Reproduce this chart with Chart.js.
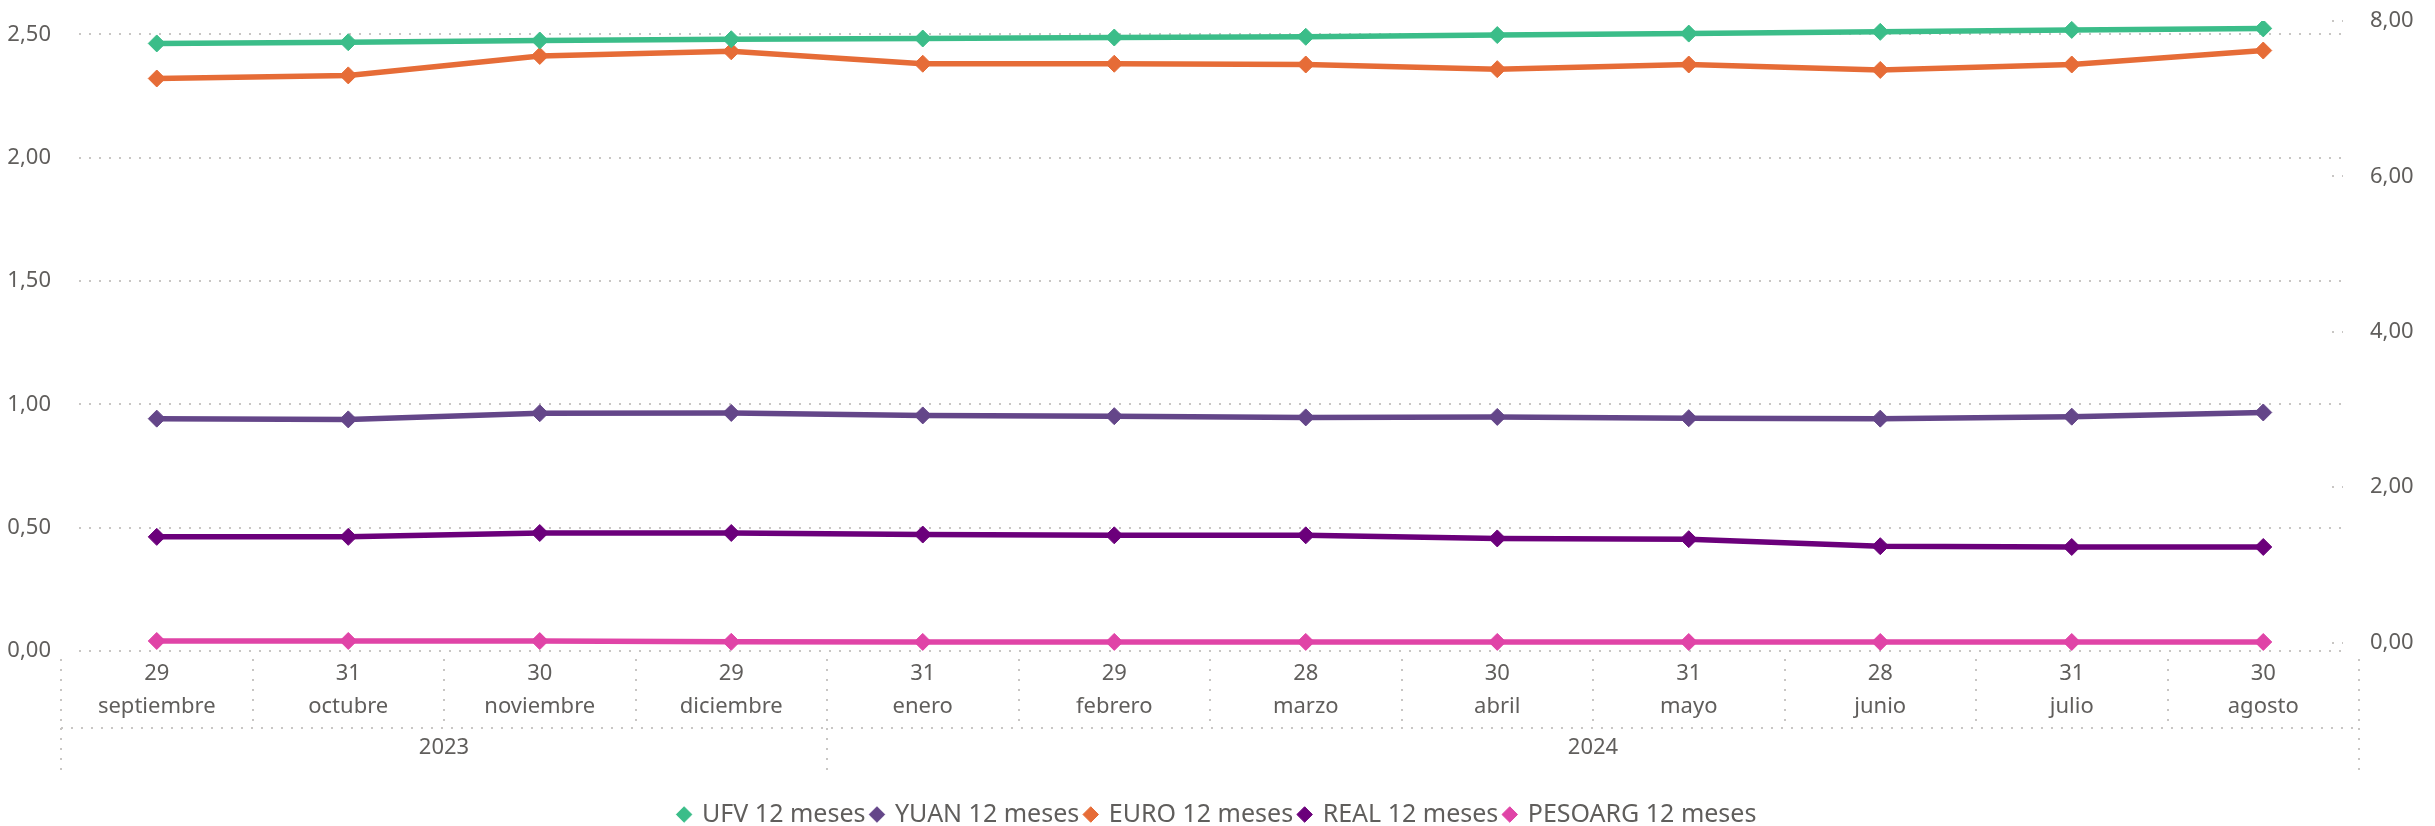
<!DOCTYPE html>
<html>
<head>
<meta charset="utf-8">
<script src="https://cdn.jsdelivr.net/npm/chart.js@4"></script>
<style>
  html, body { margin: 0; padding: 0; background: #fff; }
  #wrap { width: 2435px; height: 826px; }
</style>
</head>
<body>
<div id="wrap"><canvas id="tipos"></canvas></div>
<script>
const dias = ["29", "31", "30", "29", "31", "29", "28", "30", "31", "28", "31", "30"];
const meses = ["septiembre", "octubre", "noviembre", "diciembre", "enero", "febrero",
  "marzo", "abril", "mayo", "junio", "julio", "agosto"];
const anios = ["2023", "2024"];
const anioDesde = [0, 4];
const anioHasta = [3, 11];

const ufv = [2.463, 2.468, 2.475, 2.480, 2.483, 2.487, 2.490, 2.497, 2.503, 2.510, 2.518, 2.524];
const yuan = [0.942, 0.939, 0.964, 0.965, 0.955, 0.952, 0.947, 0.949, 0.944, 0.942, 0.950, 0.967];
const euro = [7.26, 7.30, 7.55, 7.61, 7.45, 7.45, 7.44, 7.38, 7.44, 7.37, 7.44, 7.62];
const real = [1.36, 1.36, 1.41, 1.41, 1.39, 1.38, 1.38, 1.34, 1.33, 1.24, 1.23, 1.23];
const pesoarg = [0.020, 0.020, 0.019, 0.009, 0.008, 0.008, 0.008, 0.008, 0.007, 0.007, 0.007, 0.007];

const ticksIzq = [0, 0.5, 1, 1.5, 2, 2.5];
const ticksDer = [0, 2, 4, 6, 8];

const FONT = "'Segoe UI', 'Noto Sans', sans-serif";
const GRIS = "#605e5c";
const PUNTOS = "#c8c6c4";

const coma = v => Number(v).toFixed(2).replace(".", ",");

function serie(label, data, color, eje) {
  return {
    label: label,
    data: data,
    yAxisID: eje,
    borderColor: color,
    backgroundColor: color,
    pointBackgroundColor: color,
    pointBorderColor: color,
    borderWidth: 5.5,
    pointStyle: "rectRot",
    pointRadius: 8.5,
    pointBorderWidth: 1,
    tension: 0
  };
}

function punteado(ctx) {
  ctx.strokeStyle = PUNTOS;
  ctx.lineWidth = 2;
  ctx.setLineDash([2, 8]);
}

function linea(ctx, x0, y0, x1, y1) {
  ctx.beginPath();
  ctx.moveTo(x0, y0);
  ctx.lineTo(x1, y1);
  ctx.stroke();
}

// rejilla horizontal algo recortada, como en Power BI
const rejilla = {
  id: "rejilla",
  beforeDatasetsDraw(chart) {
    const ctx = chart.ctx;
    const a = chart.chartArea;
    const y = chart.scales.y;
    const y1 = chart.scales.y1;
    ctx.save();
    punteado(ctx);
    ticksIzq.forEach(t => {
      const py = Math.round(y.getPixelForValue(t));
      linea(ctx, a.left + 18, py, a.right - 18, py);
    });
    ticksDer.forEach(t => {
      const py = Math.round(y1.getPixelForValue(t));
      linea(ctx, a.right - 27, py, a.right - 16, py);
    });
    ctx.restore();
  }
};

// separadores punteados del eje de categorias
const cajasEje = {
  id: "cajasEje",
  afterDraw(chart) {
    const ctx = chart.ctx;
    const x = chart.scales.x;
    const x2 = chart.scales.x2;
    const filaY = x.bottom;
    ctx.save();
    punteado(ctx);
    for (let k = 0; k <= dias.length; k++) {
      const px = Math.round(x.getPixelForValue(k - 0.5));
      linea(ctx, px, x.top + 8, px, filaY);
    }
    linea(ctx, x.getPixelForValue(-0.5), filaY, x.getPixelForValue(dias.length - 0.5), filaY);
    const cortes = [anioDesde[0] - 0.5].concat(anioHasta.map(h => h + 0.5));
    cortes.forEach(c => {
      const px = Math.round(x.getPixelForValue(c));
      linea(ctx, px, filaY, px, x2.top + 42);
    });
    ctx.restore();
  }
};

new Chart(document.getElementById("tipos"), {
  type: "line",
  data: {
    labels: dias.map((d, i) => [d, meses[i]]),
    datasets: [
      serie("UFV 12 meses", ufv, "#3bbd89", "y"),
      serie("YUAN 12 meses", yuan, "#644689", "y"),
      serie("EURO 12 meses", euro, "#e66c37", "y1"),
      serie("REAL 12 meses", real, "#6b007b", "y1"),
      serie("PESOARG 12 meses", pesoarg, "#e044a7", "y1")
    ]
  },
  options: {
    responsive: true,
    maintainAspectRatio: false,
    animation: false,
    layout: { padding: { top: 21, left: 0, right: 0, bottom: -11 } },
    plugins: {
      legend: {
        position: "bottom",
        labels: {
          usePointStyle: true,
          pointStyle: "rectRot",
          boxWidth: 11,
          boxHeight: 11,
          padding: 6,
          color: GRIS,
          font: { family: FONT, size: 25 }
        }
      },
      tooltip: { enabled: false }
    },
    scales: {
      x: {
        type: "category",
        offset: true,
        grid: { display: false },
        border: { display: false },
        ticks: {
          color: GRIS,
          padding: -2,
          maxRotation: 0,
          autoSkip: false,
          font: { family: FONT, size: 22, lineHeight: 1.5 }
        },
        afterFit(scale) { scale.height = 77; }
      },
      x2: {
        type: "linear",
        position: "bottom",
        min: -0.5,
        max: dias.length - 0.5,
        grid: { display: false },
        border: { display: false },
        afterBuildTicks(scale) {
          scale.ticks = anios.map((a, i) => ({ value: (anioDesde[i] + anioHasta[i]) / 2 }));
        },
        ticks: {
          color: GRIS,
          padding: -1,
          maxRotation: 0,
          font: { family: FONT, size: 22 },
          callback: (v, i) => anios[i]
        },
        afterFit(scale) { scale.height = 68; }
      },
      y: {
        position: "left",
        min: 0,
        max: 2.554,
        afterBuildTicks(scale) {
          scale.ticks = ticksIzq.map(v => ({ value: v }));
        },
        grid: { display: false },
        border: { display: false },
        ticks: {
          color: GRIS,
          padding: 2,
          font: { family: FONT, size: 22 },
          callback: v => coma(v)
        },
        afterFit(scale) { scale.width = 61; }
      },
      y1: {
        position: "right",
        min: -0.109,
        max: 8,
        afterBuildTicks(scale) {
          scale.ticks = ticksDer.map(v => ({ value: v }));
        },
        grid: { display: false },
        border: { display: false },
        ticks: {
          color: GRIS,
          padding: 3,
          font: { family: FONT, size: 22 },
          callback: v => coma(v)
        },
        afterFit(scale) { scale.width = 76; }
      }
    }
  },
  plugins: [rejilla, cajasEje]
});
</script>
</body>
</html>
